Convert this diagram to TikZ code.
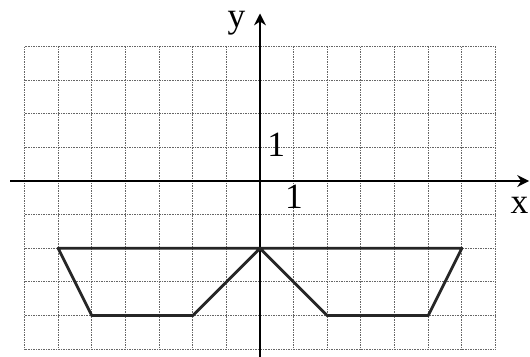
\documentclass[tikz,border=0pt]{standalone}
\usepackage{fontspec}
\setmainfont{Liberation Serif}
\usetikzlibrary{arrows.meta}
\tikzset{
  gridline/.style={black!60, line width=0.9pt, dash pattern=on 0.5pt off 0.9pt},
  axisline/.style={black, line width=1.7pt, -{Stealth[length=10pt,width=10pt]}},
  shapeline/.style={black!85, line width=2.4pt, line join=round, line cap=round},
  lbl/.style={font=\fontsize{30}{30}\selectfont, inner sep=0pt}
}
\begin{document}
\begin{tikzpicture}
\useasboundingbox (-7.729,-5.202) rectangle (8.026,5.381);
% grid
\foreach \x in {-7,...,7} \draw[gridline] (\x,-5) -- (\x,4);
\foreach \y in {-5,...,4} \draw[gridline] (-7,\y) -- (7,\y);
% axes
\coordinate (xs) at (-7.43,0);
\coordinate (xe) at (8.0,0);
\coordinate (ys) at (0,-5.25);
\coordinate (ye) at (0,4.98);
\draw[axisline] (xs) -- (xe);
\draw[axisline] (ys) -- (ye);
% labels
\node[lbl] (ylab) at (-0.70,4.68) {y};
\node[lbl] (xlab) at (7.71,-0.71) {x};
\node[lbl] (one y) at (0.48,1.09) {1};
\node[lbl] (one x) at (1.01,-0.47) {1};
% shape
\coordinate (A) at (-6,-2);
\coordinate (B) at (-5,-4);
\coordinate (C) at (-2,-4);
\coordinate (O) at (0,-2);
\coordinate (D) at (2,-4);
\coordinate (E) at (5,-4);
\coordinate (F) at (6,-2);
\draw[shapeline] (A) -- (B) -- (C) -- (O) -- (D) -- (E) -- (F) -- cycle;
\end{tikzpicture}
\end{document}
